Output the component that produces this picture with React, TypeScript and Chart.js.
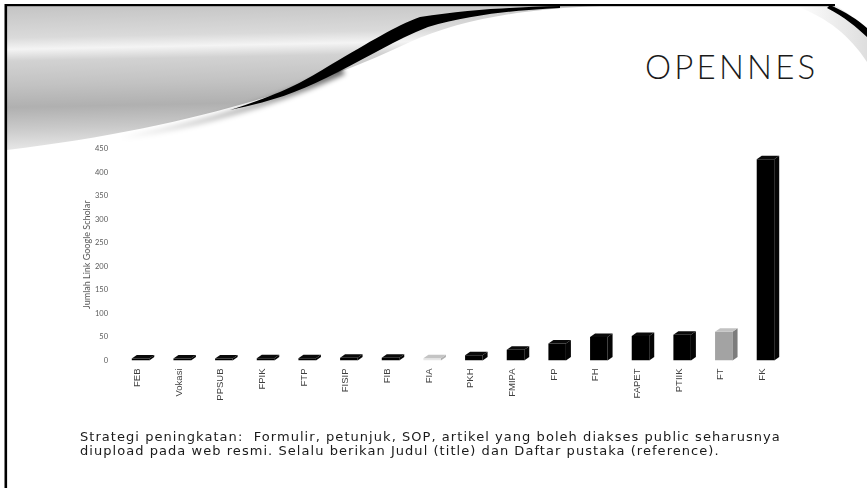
import React, { useEffect, useRef } from "react";
import { Chart, registerables } from "chart.js";

Chart.register(...registerables);

// ---- data ----
const categories = ["FEB", "Vokasi", "PPSUB", "FPIK", "FTP", "FISIP", "FIB", "FIA", "PKH", "FMIPA", "FP", "FH", "FAPET", "PTIIK", "FT", "FK"];
const linkCounts = [4, 4, 4, 5, 5, 6, 6, 5, 11, 23, 36, 50, 52, 55, 61, 428];
const yTickValues = [0, 50, 100, 150, 200, 250, 300, 350, 400, 450];
const yAxisTitle = "Jumlah Link Google Scholar";
const slideTitle = "OPENNES";
const noteLine1 = "Strategi peningkatan:  Formulir, petunjuk, SOP, artikel yang boleh diakses public seharusnya";
const noteLine2 = "diupload pada web resmi. Selalu berikan Judul (title) dan Daftar pustaka (reference).";

// ---- styles ----
const shadeOf = (c: string) => (c === "FIA" ? "light" : c === "FT" ? "mid" : "dark");
const palette: Record<string, { front: string; top: string; side: string }> = {
  dark: { front: "#000000", top: "#0a0a0a", side: "#050505" },
  light: { front: "#e6e6e6", top: "#c4c4c4", side: "#b0b0b0" },
  mid: { front: "#a3a3a3", top: "#c2c2c2", side: "#7c7c7c" },
};

const bar3d = {
  id: "bar3d",
  afterDatasetsDraw(chart: any) {
    const ctx = chart.ctx;
    const meta = chart.getDatasetMeta(0);
    const dx = 5;
    const dy = 3.5;
    meta.data.forEach((el: any, i: number) => {
      const { x, y, base, width } = el.getProps(["x", "y", "base", "width"], true);
      const l = x - width / 2;
      const r = x + width / 2;
      const p = palette[shadeOf(categories[i])];
      ctx.save();
      ctx.fillStyle = p.side;
      ctx.beginPath();
      ctx.moveTo(r, y);
      ctx.lineTo(r + dx, y - dy);
      ctx.lineTo(r + dx, base - dy);
      ctx.lineTo(r, base);
      ctx.closePath();
      ctx.fill();
      ctx.fillStyle = p.top;
      ctx.beginPath();
      ctx.moveTo(l, y);
      ctx.lineTo(l + dx, y - dy);
      ctx.lineTo(r + dx, y - dy);
      ctx.lineTo(r, y);
      ctx.closePath();
      ctx.fill();
      ctx.restore();
    });
  },
};

function Decor() {
  return (
    <svg width={867} height={488} style={{ position: "absolute", left: 0, top: 0 }}>
      <defs>
        <linearGradient id="sw" x1="0" y1="0" x2="0.08" y2="1">
          <stop offset="0" stopColor="#c4c4c4" />
          <stop offset="0.22" stopColor="#dadada" />
          <stop offset="0.3" stopColor="#f4f4f4" />
          <stop offset="0.38" stopColor="#d2d2d2" />
          <stop offset="0.55" stopColor="#c2c2c2" />
          <stop offset="0.7" stopColor="#b0b0b0" />
          <stop offset="0.85" stopColor="#cacaca" />
          <stop offset="1" stopColor="#e8e8e8" />
        </linearGradient>
        <linearGradient id="swR" x1="0" y1="0" x2="1" y2="0">
          <stop offset="0" stopColor="#ffffff" />
          <stop offset="1" stopColor="#d0d0d0" />
        </linearGradient>
        <linearGradient id="shade" x1="0" y1="0" x2="1" y2="0">
          <stop offset="0" stopColor="#000" stopOpacity="0" />
          <stop offset="0.6" stopColor="#000" stopOpacity="0.3" />
          <stop offset="1" stopColor="#000" stopOpacity="0.6" />
        </linearGradient>
        <filter id="soft">
          <feGaussianBlur stdDeviation="0.7" />
        </filter>
        <filter id="soft2">
          <feGaussianBlur stdDeviation="2.5" />
        </filter>
      </defs>
      <path d="M7,6 L600,6 C 520,9 460,20 410,42 C 320,85 190,128 7,150 Z" fill="url(#sw)" />
      <path d="M120,136 C 210,120 280,98 340,66 L 345,74 C 280,104 210,126 120,140 Z" fill="url(#shade)" filter="url(#soft2)" />
      <path
        d="M230,110 C 280,94 300,84 332,64 C 370,42 395,26 420,17 C 470,9 520,7 560,6 L 560,8 C 515,10 470,15 428,27 C 395,40 370,56 338,72 C 300,92 270,102 230,110 Z"
        fill="#000"
        filter="url(#soft)"
      />
      <path d="M796,6 L836,6 C 850,14 860,22 867,30 L 867,62 C 850,36 828,18 796,6 Z" fill="url(#swR)" opacity="0.7" />
      <path d="M830,5 C 846,12 858,20 867,28 L 867,37 C 856,27 845,17 827,8 Z" fill="#000" filter="url(#soft)" />
      <rect x={5} y={4} width={830} height={2.2} fill="#000" />
      <rect x={4.5} y={4} width={2.6} height={484} fill="#000" />
    </svg>
  );
}

export default function App() {
  const ref = useRef<HTMLCanvasElement | null>(null);

  useEffect(() => {
    if (!ref.current) return;
    const chart = new Chart(ref.current, {
      type: "bar",
      data: {
        labels: categories,
        datasets: [
          {
            data: linkCounts,
            backgroundColor: categories.map((c) => palette[shadeOf(c)].front),
            borderWidth: 0,
            barPercentage: 0.42,
            categoryPercentage: 1,
          },
        ],
      },
      options: {
        animation: false,
        responsive: false,
        events: [],
        layout: { padding: { left: 81.5, top: 149, right: 80.7, bottom: 77.5 } },
        plugins: { legend: { display: false }, tooltip: { enabled: false }, title: { display: false } },
        scales: {
          x: {
            grid: { display: false, drawTicks: false },
            border: { display: false },
            ticks: {
              autoSkip: false,
              maxRotation: 90,
              minRotation: 90,
              padding: 8,
              labelOffset: -3,
              color: "#404040",
              font: { family: "'Liberation Sans', Arial, sans-serif", size: 9.5 },
            },
            afterFit: (s: any) => {
              s.height = 50;
            },
          },
          y: {
            min: 0,
            max: 450,
            grid: { display: false, drawTicks: false },
            border: { display: false },
            afterBuildTicks: (s: any) => {
              s.ticks = yTickValues.map((v) => ({ value: v }));
            },
            ticks: {
              padding: 11.7,
              color: "#595959",
              font: { family: "Lato, sans-serif", size: 7.5 },
            },
            title: {
              display: true,
              text: yAxisTitle,
              color: "#595959",
              padding: 0,
              font: { family: "Lato, sans-serif", size: 9 },
            },
            afterFit: (s: any) => {
              s.width = 38.2;
            },
          },
        },
      },
      plugins: [bar3d],
    });
    return () => chart.destroy();
  }, []);

  return (
    <div
      style={{
        position: "fixed",
        left: 0,
        top: 0,
        width: 867,
        height: 488,
        background: "#fff",
        overflow: "hidden",
      }}
    >
      <Decor />
      <div
        style={{
          position: "absolute",
          left: 645,
          top: 50,
          fontFamily: "Lato, sans-serif",
          fontWeight: 300,
          fontSize: 33,
          lineHeight: "33px",
          letterSpacing: 3.2,
          color: "#1a1a1a",
          whiteSpace: "nowrap",
        }}
      >
        {slideTitle}
      </div>
      <canvas ref={ref} width={867} height={488} style={{ position: "absolute", left: 0, top: 0 }} />
      <div
        style={{
          position: "absolute",
          left: 80,
          top: 430,
          fontFamily: "'DejaVu Sans', sans-serif",
          fontSize: 13,
          lineHeight: "14px",
          letterSpacing: 1.05,
          color: "#1a1a1a",
          whiteSpace: "pre",
        }}
      >
        <div>{noteLine1}</div>
        <div>{noteLine2}</div>
      </div>
    </div>
  );
}
